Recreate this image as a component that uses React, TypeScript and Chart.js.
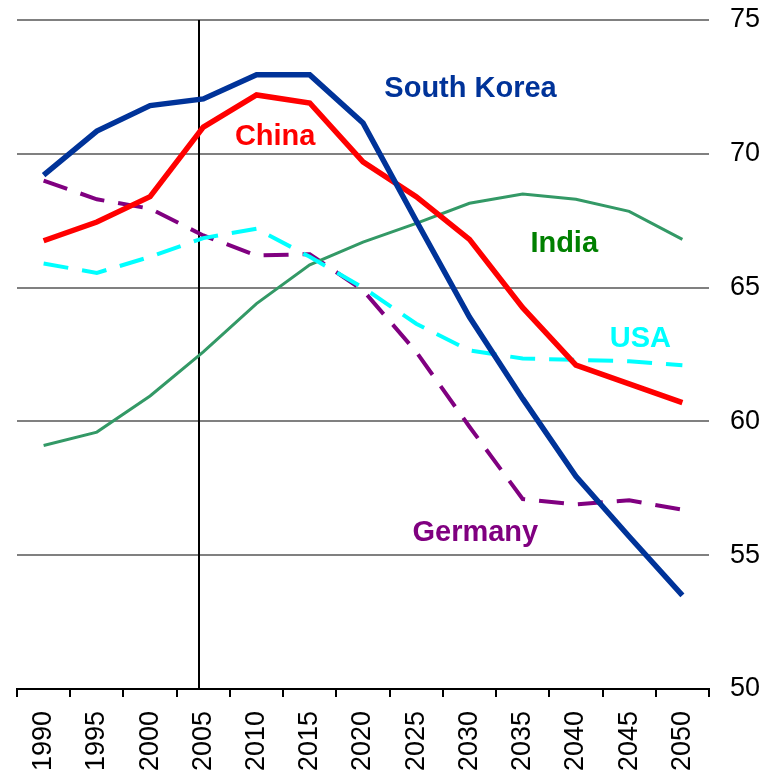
import React, { useEffect, useRef } from "react";
import { Chart, registerables } from "chart.js";

Chart.register(...registerables);

const years = ["1990", "1995", "2000", "2005", "2010", "2015", "2020", "2025", "2030", "2035", "2040", "2045", "2050"];
const southKorea = [69.2, 70.85, 71.8, 72.05, 72.95, 72.95, 71.15, 67.5, 63.9, 60.85, 57.95, 55.7, 53.5];
const china = [66.75, 67.45, 68.4, 71.0, 72.2, 71.9, 69.7, 68.4, 66.8, 64.25, 62.1, 61.4, 60.7];
const india = [59.1, 59.6, 60.95, 62.6, 64.4, 65.85, 66.7, 67.4, 68.15, 68.5, 68.3, 67.85, 66.8];
const usa = [65.9, 65.55, 66.15, 66.85, 67.2, 66.15, 65.0, 63.65, 62.65, 62.35, 62.3, 62.25, 62.1];
const germany = [69.0, 68.3, 67.95, 66.95, 66.2, 66.25, 64.9, 62.6, 59.8, 57.1, 56.9, 57.05, 56.7];

const yMin = 50;
const yMax = 75;
const yStep = 5;

// Series annotations (text, colour, category position, value position)
const labelTexts = ["South Korea", "China", "India", "USA", "Germany"];
const labelColors = ["#003399", "#FF0000", "#008000", "#00FFFF", "#800080"];
const labelXs = [8.02, 4.35, 9.78, 11.21, 8.11];
const labelYs = [72.12, 70.33, 66.33, 62.78, 55.53];

// Vertical marker near 2005
const markerIndex = 2.92;

const FONT = "'Liberation Sans', Arial, Helvetica, sans-serif";

export default function App() {
  const canvasRef = useRef<HTMLCanvasElement | null>(null);

  useEffect(() => {
    const canvas = canvasRef.current;
    if (!canvas) return;

    const markerPlugin = {
      id: "marker",
      beforeDatasetsDraw(chart: any) {
        const { ctx, chartArea, scales } = chart;
        const x = Math.round(scales.x.getPixelForValue(markerIndex));
        ctx.save();
        ctx.strokeStyle = "#000";
        ctx.lineWidth = 2;
        ctx.beginPath();
        ctx.moveTo(x, chartArea.top);
        ctx.lineTo(x, chartArea.bottom);
        ctx.stroke();
        ctx.restore();
      },
    };

    const labelPlugin = {
      id: "seriesLabels",
      afterDatasetsDraw(chart: any) {
        const { ctx, scales } = chart;
        ctx.save();
        ctx.font = `bold 29px ${FONT}`;
        ctx.textAlign = "center";
        ctx.textBaseline = "alphabetic";
        labelTexts.forEach((t, i) => {
          ctx.fillStyle = labelColors[i];
          ctx.fillText(t, scales.x.getPixelForValue(labelXs[i]), scales.y.getPixelForValue(labelYs[i]));
        });
        ctx.restore();
      },
    };

    const chart = new Chart(canvas, {
      type: "line",
      data: {
        labels: years,
        datasets: [
          { label: "South Korea", data: southKorea, borderColor: "#003399", borderWidth: 5.5, pointRadius: 0, fill: false, tension: 0 },
          { label: "China", data: china, borderColor: "#FF0000", borderWidth: 5.5, pointRadius: 0, fill: false, tension: 0 },
          { label: "USA", data: usa, borderColor: "#00FFFF", borderWidth: 4, borderDash: [25, 14], pointRadius: 0, fill: false, tension: 0 },
          { label: "India", data: india, borderColor: "#339966", borderWidth: 3, pointRadius: 0, fill: false, tension: 0 },
          { label: "Germany", data: germany, borderColor: "#800080", borderWidth: 4, borderDash: [25, 14], pointRadius: 0, fill: false, tension: 0 },
        ],
      },
      options: {
        animation: false,
        responsive: false,
        maintainAspectRatio: false,
        events: [],
        layout: { padding: { left: 17, top: 20, right: 0, bottom: 0 } },
        plugins: {
          legend: { display: false },
          tooltip: { enabled: false },
          title: { display: false },
        },
        scales: {
          x: {
            type: "category",
            offset: true,
            grid: {
              display: true,
              drawOnChartArea: false,
              drawTicks: true,
              tickLength: 8,
              color: "#000",
              lineWidth: 2,
              offset: true,
            },
            border: { display: true, color: "#000", width: 2 },
            ticks: {
              autoSkip: false,
              minRotation: 90,
              maxRotation: 90,
              padding: 14,
              color: "#000",
              font: { size: 27, family: FONT },
            },
            afterFit(scale: any) {
              scale.height = 85;
              scale.paddingLeft = 0;
              scale.paddingRight = 0;
            },
          },
          y: {
            position: "right",
            min: yMin,
            max: yMax,
            grid: {
              color: (c: any) => (c.tick && c.tick.value === yMin ? "rgba(0,0,0,0)" : "#808080"),
              lineWidth: 2,
              drawTicks: false,
            },
            border: { display: false },
            ticks: {
              stepSize: yStep,
              padding: 21,
              color: "#000",
              font: { size: 27, family: FONT },
            },
            afterFit(scale: any) {
              scale.width = 69;
              scale.paddingTop = 0;
              scale.paddingBottom = 0;
            },
          },
        },
      },
      plugins: [markerPlugin, labelPlugin],
    });

    return () => {
      chart.destroy();
    };
  }, []);

  return (
    <div style={{ position: "fixed", left: 0, top: 0, width: 778, height: 774, background: "#fff" }}>
      <canvas ref={canvasRef} width={778} height={774} style={{ display: "block", width: 778, height: 774 }} />
    </div>
  );
}
